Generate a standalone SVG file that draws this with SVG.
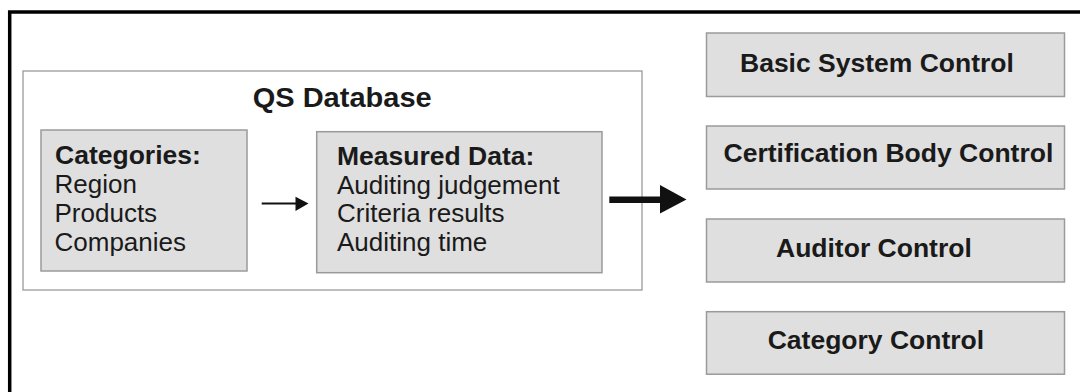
<svg xmlns="http://www.w3.org/2000/svg" width="1080" height="392" viewBox="0 0 1080 392">
<style>
.box{fill:#dfdfdf;stroke:#9a9a9a;stroke-width:1.5}
.frame{fill:none;stroke:#000;stroke-width:3.5}
.db{fill:#fff;stroke:#9a9a9a;stroke-width:1.3}
text{font-family:"Liberation Sans",Arial,sans-serif;fill:#1a1a1a;font-size:26px}
.b{font-weight:bold;font-size:26.5px}
.t{font-weight:bold;font-size:28px}
.line{stroke:#111;fill:none}
.head{fill:#111;stroke:none}
</style>
<rect width="1080" height="392" fill="#fff"/>
<path class="frame" d="M9.7,395 V12 H1085"/>
<g id="qs-database">
<rect class="db" x="23" y="71" width="619" height="219"/>
<text class="t" x="252.7" y="107" textLength="179" lengthAdjust="spacingAndGlyphs">QS Database</text>
</g>
<g id="categories">
<rect class="box" x="41" y="130" width="206" height="141"/>
<text class="b" x="55" y="164">Categories:</text>
<text x="54.5" y="193">Region</text>
<text x="54.5" y="222">Products</text>
<text x="54.5" y="251">Companies</text>
</g>
<g id="measured-data">
<rect class="box" x="316.7" y="131.7" width="285.3" height="141"/>
<text class="b" x="337" y="165">Measured Data:</text>
<text x="337" y="193.5">Auditing judgement</text>
<text x="337" y="222">Criteria results</text>
<text x="337" y="250.5">Auditing time</text>
</g>
<g id="basic-system-control">
<rect class="box" x="706.5" y="33" width="358" height="63.5"/>
<text class="b" x="740" y="72">Basic System Control</text>
</g>
<g id="certification-body-control">
<rect class="box" x="706.5" y="126" width="358" height="63"/>
<text class="b" x="723.5" y="162">Certification Body Control</text>
</g>
<g id="auditor-control">
<rect class="box" x="706.5" y="219" width="358" height="63"/>
<text class="b" x="776" y="257">Auditor Control</text>
</g>
<g id="category-control">
<rect class="box" x="706.5" y="311.7" width="358" height="62.5"/>
<text class="b" x="767.7" y="348.5">Category Control</text>
</g>
<g id="connectors">
<line class="line" x1="261.7" y1="203.5" x2="297" y2="203.5" stroke-width="2"/>
<polygon class="head" points="295.5,196.7 308.5,203.5 295.5,211"/>
<line class="line" x1="609.3" y1="199.7" x2="662" y2="199.7" stroke-width="6.5"/>
<polygon class="head" points="660,185 686.5,199.5 660,213.5"/>
</g>
</svg>
